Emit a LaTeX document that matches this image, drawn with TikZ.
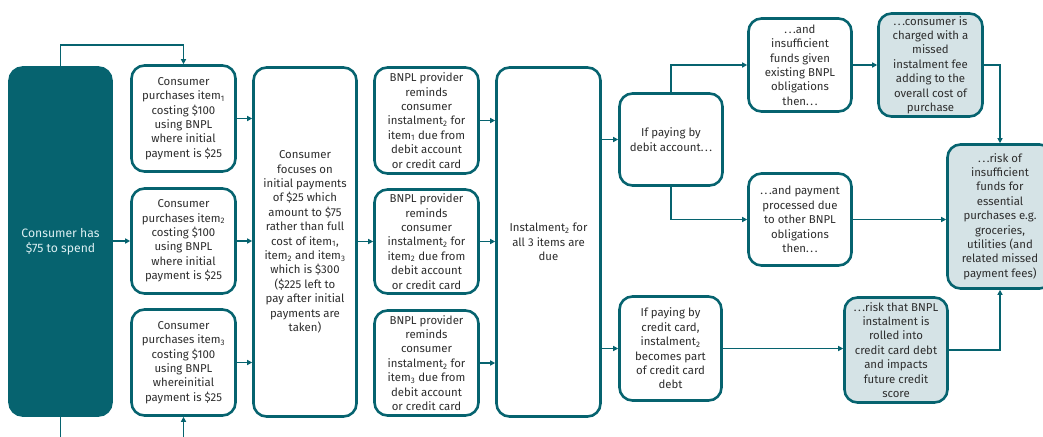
\documentclass[tikz,border=0pt]{standalone}
\usepackage{fontspec}
\setmainfont{Fira Sans}
\usetikzlibrary{arrows.meta}
\definecolor{teal}{HTML}{06636F}
\definecolor{pale}{HTML}{D5E3E6}
\definecolor{ink}{HTML}{2E2E2E}
\definecolor{lighttext}{HTML}{DCEFF2}
\newcommand{\sub}[1]{\textsubscript{#1}}
\newcommand{\spdots}{.\kern1.6pt.\kern1.6pt.}
\tikzset{
  stage/.style={draw=teal, line width=2.6pt, rounded corners=13pt, fill=white,
    text=ink, align=center, inner sep=1pt,
    font=\fontsize{11.4}{14.4}\selectfont},
  outcome/.style={stage, fill=pale},
  start/.style={stage, fill=teal, text=lighttext,
    font=\fontsize{12.2}{14.6}\selectfont},
  link/.style={draw=teal, line width=1.7pt,
    -{Triangle[length=5pt,width=5pt]}},
  plain/.style={draw=teal, line width=1.7pt}
}
\begin{document}
\begin{tikzpicture}[x=1pt, y=-1pt]
\useasboundingbox (0,0) rectangle (1043,436);
\clip (0,0) rectangle (1043,436);

% budget
\node[start, minimum width=102pt, minimum height=348pt] (big) at (60.5,241.5)
  {Consumer has\\\$75 to spend};

% three purchases
\node[stage, minimum width=104pt, minimum height=106pt] (it1) at (183.5,118.5)
  {Consumer\\purchases item\sub{1}\\costing \$100\\using BNPL\\where initial\\payment is \$25};
\node[stage, minimum width=104pt, minimum height=105pt] (it2) at (183.5,241)
  {Consumer\\purchases item\sub{2}\\costing \$100\\using BNPL\\where initial\\payment is \$25};
\node[stage, minimum width=104pt, minimum height=106pt] (it3) at (183.5,362.5)
  {Consumer\\purchases item\sub{3}\\costing \$100\\using BNPL\\whereinitial\\payment is \$25};

% focus on initial payments
\node[stage, minimum width=103pt, minimum height=349pt] (focus) at (305,242)
  {Consumer\\focuses on\\initial payments\\of \$25 which\\amount to \$75\\rather than full\\cost of item\sub{1},\\item\sub{2} and item\sub{3}\\which is \$300\\(\$225 left to\\pay after initial\\payments are\\taken)};

% reminders
\node[stage, minimum width=104pt, minimum height=106pt] (b1) at (426.5,120.5)
  {BNPL provider\\reminds\\consumer\\instalment\sub{2} for\\item\sub{1} due from\\debit account\\or credit card};
\node[stage, minimum width=104pt, minimum height=104pt] (b2) at (426.5,241.5)
  {BNPL provider\\reminds\\consumer\\instalment\sub{2} for\\item\sub{2} due from\\debit account\\or credit card};
\node[stage, minimum width=104pt, minimum height=105pt] (b3) at (426.5,363)
  {BNPL provider\\reminds\\consumer\\instalment\sub{2} for\\item\sub{3} due from\\debit account\\or credit card};

% instalment due
\node[stage, minimum width=104pt, minimum height=349pt] (inst) at (548.5,242)
  {Instalment\sub{2} for\\all 3 items are\\due};

% payment method
\node[stage, minimum width=103pt, minimum height=92pt] (debit) at (671,139.5)
  {If paying by\\debit account\spdots};
\node[stage, minimum width=102pt, minimum height=104pt] (credit) at (670.5,348.5)
  {If paying by\\credit card,\\instalment\sub{2}\\becomes part\\of credit card\\debt};

% consequences
\node[stage, minimum width=103pt, minimum height=93pt] (insuf) at (800,65)
  {\spdots and\\insufficient\\funds given\\existing BNPL\\obligations\\then\spdots};
\node[stage, minimum width=103pt, minimum height=92pt] (pay) at (800,219.5)
  {\spdots and payment\\processed due\\to other BNPL\\obligations\\then\spdots};
\node[outcome, minimum width=104pt, minimum height=103pt] (charged) at (930.5,65)
  {\spdots consumer is\\charged with a\\missed\\instalment fee\\adding to the\\overall cost of\\purchase};
\node[outcome, minimum width=105pt, minimum height=144pt] (riskof) at (1000,216.5)
  {\spdots risk of\\insufficient\\funds for\\essential\\purchases e.g.\\groceries,\\utilities (and\\related missed\\payment fees)};
\node[outcome, minimum width=103pt, minimum height=105pt] (riskbnpl) at (896,350)
  {\spdots risk that BNPL\\instalment is\\rolled into\\credit card debt\\and impacts\\future credit\\score};

% loop between budget and purchases
\draw[link] (big.north) -- ++(0,-21) -| (it1.north);
\coordinate (loopL) at (60.5,440);
\coordinate (loopR) at (183.5,440);
\draw[plain] (big.south) -- (loopL);
\draw[link] (loopR) -- (it3.south);

\draw[link] (it2.west -| big.east) -- (it2.west);
\draw[link] (it1.east) -- (it1.east -| focus.west);
\draw[link] (it2.east) -- (it2.east -| focus.west);
\draw[link] (it3.east) -- (it3.east -| focus.west);
\draw[link] (b2.west -| focus.east) -- (b2.west);
\draw[link] (b1.east) -- (b1.east -| inst.west);
\draw[link] (b2.east) -- (b2.east -| inst.west);
\draw[link] (b3.east) -- (b3.east -| inst.west);
\draw[link] (debit.west -| inst.east) -- (debit.west);
\draw[link] (credit.west -| inst.east) -- (credit.west);
\draw[link] (debit.north) |- (insuf.west);
\draw[link] (debit.south) |- (pay.west);
\draw[link] (insuf.east) -- (insuf.east -| charged.west);
\draw[link] (charged.east) -| (riskof.north);
\draw[link] (pay.east) -- (pay.east -| riskof.west);
\draw[link] (credit.east) -- (credit.east -| riskbnpl.west);
\draw[link] (riskbnpl.east) -| (riskof.south);
\end{tikzpicture}
\end{document}
